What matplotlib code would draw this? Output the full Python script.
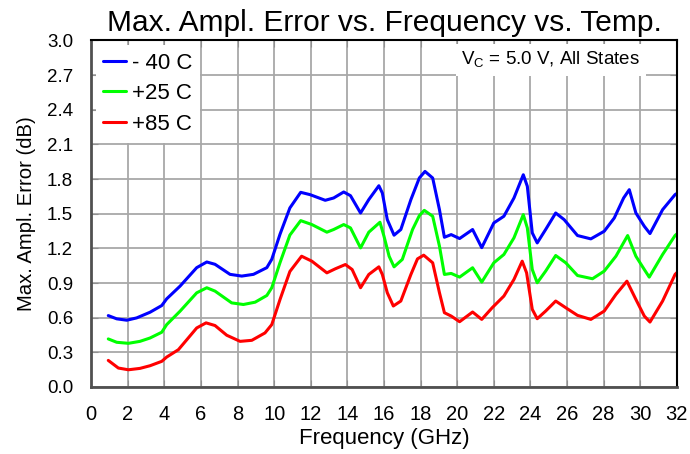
import matplotlib
matplotlib.use("Agg")
import matplotlib.pyplot as plt

plt.rcParams['font.family'] = ['Liberation Sans', 'DejaVu Sans']

title = "Max. Ampl. Error vs. Frequency vs. Temp."
xlabel = "Frequency (GHz)"
ylabel = "Max. Ampl. Error (dB)"
annotation = "V$_\\mathregular{C}$ = 5.0 V, All States"
series_labels = ["- 40 C", "+25 C", "+85 C"]
series_colors = ["#0000ff", "#00ff00", "#ff0000"]

freq_m40 = [0.94, 1.40, 1.95, 2.49, 3.22, 3.86, 4.13, 4.86, 5.77, 6.32, 6.77, 7.59, 8.23, 8.87,
            9.6, 9.87, 10.32, 10.86, 11.45, 11.96, 12.79, 13.25, 13.8, 14.17, 14.72, 15.17,
            15.72, 15.91, 16.18, 16.55, 16.92, 17.47, 17.93, 18.24, 18.66, 19.03, 19.3, 19.67,
            20.13, 20.84, 21.34, 22.0, 22.55, 23.1, 23.61, 23.83, 24.1, 24.37, 24.83, 25.38,
            25.84, 26.57, 27.3, 28.03, 28.58, 29.09, 29.4, 29.76, 30.22, 30.53, 31.22, 31.9,
            32.0]
val_m40 = [0.618, 0.59, 0.578, 0.598, 0.647, 0.705, 0.763, 0.873, 1.033, 1.082, 1.062, 0.975,
           0.96, 0.975, 1.033, 1.105, 1.322, 1.55, 1.685, 1.665, 1.616, 1.636, 1.688, 1.656,
           1.506, 1.622, 1.742, 1.679, 1.449, 1.314, 1.363, 1.622, 1.809, 1.866, 1.809, 1.535,
           1.296, 1.319, 1.285, 1.363, 1.206, 1.42, 1.478, 1.636, 1.837, 1.737, 1.334, 1.247,
           1.363, 1.506, 1.449, 1.311, 1.282, 1.348, 1.463, 1.636, 1.708, 1.506, 1.391, 1.328,
           1.535, 1.665, 1.675]

freq_p25 = [0.94, 1.40, 2.04, 2.67, 3.22, 3.86, 4.13, 4.86, 5.77, 6.32, 6.77, 7.68, 8.32, 8.96,
            9.6, 9.87, 10.32, 10.86, 11.45, 12.06, 12.88, 13.25, 13.8, 14.17, 14.72, 15.17,
            15.78, 16.0, 16.28, 16.55, 17.0, 17.56, 17.93, 18.2, 18.66, 19.03, 19.3, 19.67,
            20.13, 20.84, 21.34, 22.0, 22.55, 23.1, 23.61, 23.83, 24.1, 24.37, 24.83, 25.38,
            25.93, 26.57, 27.39, 28.03, 28.67, 29.31, 29.76, 30.22, 30.49, 31.22, 31.9, 32.0]
val_p25 = [0.416, 0.387, 0.378, 0.395, 0.424, 0.474, 0.54, 0.656, 0.815, 0.859, 0.83, 0.728,
           0.714, 0.734, 0.792, 0.859, 1.076, 1.315, 1.44, 1.406, 1.34, 1.363, 1.406, 1.377,
           1.204, 1.34, 1.426, 1.305, 1.132, 1.04, 1.104, 1.363, 1.483, 1.529, 1.478, 1.219,
           0.974, 0.983, 0.951, 1.032, 0.908, 1.075, 1.147, 1.291, 1.492, 1.377, 1.017, 0.902,
           1.003, 1.138, 1.075, 0.965, 0.937, 1.003, 1.132, 1.311, 1.132, 1.017, 0.951, 1.147,
           1.311, 1.325]

freq_p85 = [0.94, 1.49, 2.04, 2.67, 3.22, 3.86, 4.13, 4.77, 5.77, 6.28, 6.77, 7.41, 8.14, 8.78,
            9.5, 9.87, 10.32, 10.86, 11.5, 12.06, 12.88, 13.34, 13.89, 14.26, 14.72, 15.17,
            15.72, 15.91, 16.18, 16.51, 16.92, 17.47, 17.83, 18.17, 18.66, 19.03, 19.3, 19.67,
            20.13, 20.84, 21.34, 21.91, 22.55, 23.1, 23.55, 23.79, 24.1, 24.37, 24.83, 25.38,
            25.93, 26.57, 27.3, 28.03, 28.67, 29.27, 29.76, 30.22, 30.53, 31.22, 31.9, 32.0]
val_p85 = [0.23, 0.164, 0.149, 0.161, 0.184, 0.222, 0.259, 0.323, 0.511, 0.555, 0.532, 0.448,
           0.395, 0.404, 0.468, 0.54, 0.757, 1.0, 1.132, 1.089, 0.988, 1.023, 1.06, 1.017,
           0.859, 0.974, 1.04, 0.974, 0.816, 0.701, 0.744, 0.974, 1.109, 1.141, 1.075, 0.816,
           0.643, 0.614, 0.565, 0.649, 0.585, 0.686, 0.787, 0.931, 1.089, 0.988, 0.672, 0.591,
           0.657, 0.744, 0.686, 0.62, 0.585, 0.657, 0.801, 0.916, 0.758, 0.614, 0.562, 0.744,
           0.974, 0.99]

x_ticks = list(range(0, 33, 2))
y_ticks = [0.0, 0.3, 0.6, 0.9, 1.2, 1.5, 1.8, 2.1, 2.4, 2.7, 3.0]

fig = plt.figure(figsize=(6.9, 4.54), dpi=100)
ax = fig.add_axes([0.132, 0.1476, 0.849, 0.7634])

for f, v, lab, c in zip([freq_m40, freq_p25, freq_p85], [val_m40, val_p25, val_p85],
                        series_labels, series_colors):
    ax.plot(f, v, color=c, lw=2.2, label=lab, solid_joinstyle='round', solid_capstyle='round')

ax.set_xlim(0, 32)
ax.set_ylim(0, 3.0)
ax.set_xticks(x_ticks)
ax.set_yticks(y_ticks)
ax.set_yticklabels([f"{t:.1f}" for t in y_ticks])
ax.grid(True, color='#a8a8a8', lw=1.3)
ax.set_axisbelow(True)
ax.tick_params(direction='in', length=5, color='#909090', top=True, right=True)
ax.tick_params(axis='x', labelsize=14.5, pad=13)
ax.tick_params(axis='y', labelsize=13.5, pad=13)

for s in ['top', 'right']:
    ax.spines[s].set_color('black')
    ax.spines[s].set_linewidth(1.5)
for s in ['left', 'bottom']:
    ax.spines[s].set_color('#505050')
    ax.spines[s].set_linewidth(2.0)

ax.set_title(title, fontsize=21.5, pad=7)
ax.set_xlabel(xlabel, fontsize=16, labelpad=3)
ax.set_ylabel(ylabel, fontsize=14.6, labelpad=8)

leg = ax.legend(loc='upper left', fontsize=16, frameon=True, fancybox=False,
                handlelength=1.0, handletextpad=0.3, borderaxespad=0.2,
                labelspacing=0.43, borderpad=0.35)
leg.get_frame().set_edgecolor('white')
leg.get_frame().set_facecolor('white')
leg.get_frame().set_alpha(1.0)
leg.get_frame().set_linewidth(0)

ax.text(0.937, 0.944, annotation, transform=ax.transAxes, ha='right', va='center', fontsize=13.5,
        bbox=dict(facecolor='white', edgecolor='none', pad=4))

fig.savefig("out.png", dpi=100)
